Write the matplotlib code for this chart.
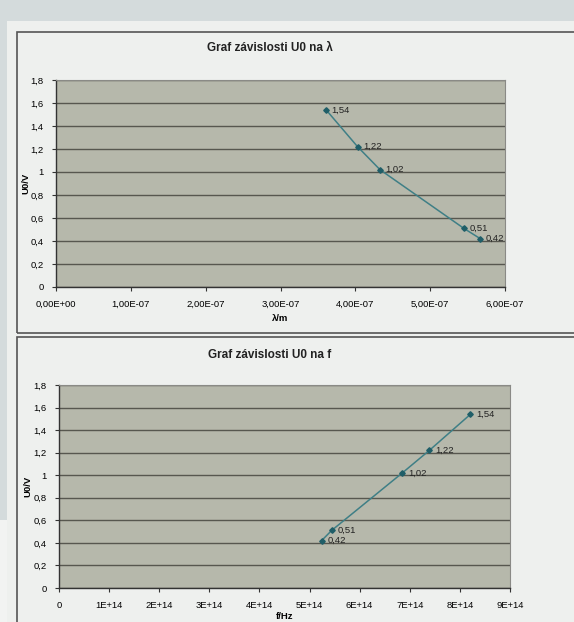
import matplotlib.pyplot as plt
from matplotlib.patches import Rectangle
from matplotlib.ticker import FuncFormatter, MultipleLocator

plt.rcParams['font.family'] = ['Liberation Sans', 'DejaVu Sans']

# namerene hodnoty (rtut: 365, 405, 436, 546, 577 nm)
vlnova_delka = [3.61e-7, 4.03e-7, 4.33e-7, 5.45e-7, 5.67e-7]
frekvence = [8.21e14, 7.39e14, 6.85e14, 5.44e14, 5.24e14]
napeti = [1.54, 1.22, 1.02, 0.51, 0.42]
popisky = ['1,54', '1,22', '1,02', '0,51', '0,42']

W, H = 574, 622
fig = plt.figure(figsize=(W / 100, H / 100), dpi=100)
fig.patch.set_facecolor('#d4dbdc')


def px_axes(x0, y0, x1, y1, **kw):
    # souradnice v pixelech (od leveho horniho rohu)
    return fig.add_axes([x0 / W, 1 - y1 / H, (x1 - x0) / W, (y1 - y0) / H], **kw)


# papir
fig.patches.append(Rectangle((7 / W, 0), 1, 1 - 21 / H, transform=fig.transFigure,
                             facecolor='#eef0ee', edgecolor='none', zorder=-3))
fig.patches.append(Rectangle((0, 0), 7 / W, 1 - 520 / H, transform=fig.transFigure,
                             facecolor='#f2f3f2', edgecolor='none', zorder=-3))
# ramecky grafu
fig.patches.append(Rectangle((17 / W, 1 - 333 / H), 1, (333 - 32) / H, transform=fig.transFigure,
                             facecolor='none', edgecolor='#555555', lw=1.2, zorder=-2))
fig.patches.append(Rectangle((17 / W, -0.1), 1, 0.1 + (H - 337) / H, transform=fig.transFigure,
                             facecolor='none', edgecolor='#555555', lw=1.2, zorder=-2))


def uprav_osu(ax, xmax, xstep, xfmt, title, xlabel, x_title, y_title, x_pad):
    ax.set_facecolor('#b6b8ab')
    ax.set_xlim(0, xmax)
    ax.set_ylim(0, 1.8)
    ax.xaxis.set_major_locator(MultipleLocator(xstep))
    ax.yaxis.set_major_locator(MultipleLocator(0.2))
    ax.xaxis.set_major_formatter(FuncFormatter(xfmt))
    ax.yaxis.set_major_formatter(FuncFormatter(
        lambda v, p: '0' if abs(v) < 1e-9 else ('1' if abs(v - 1) < 1e-9 else f'{v:.1f}'.replace('.', ','))))
    ax.grid(axis='y', color='#57574f', lw=1.0)
    ax.set_axisbelow(True)
    ax.tick_params(labelsize=6.8, length=3, width=0.8, color='#333333', pad=6)
    for s in ['top', 'right']:
        ax.spines[s].set_color('#8a8a86')
    for s in ['left', 'bottom']:
        ax.spines[s].set_color('#333333')
        ax.spines[s].set_linewidth(1.0)
    fig.text(x_title / W, 1 - y_title / H, title, ha='center', va='center',
             fontsize=8.5, fontweight='bold', color='#222222')
    ax.set_xlabel(xlabel, fontsize=6.8, fontweight='bold', labelpad=x_pad)
    ax.set_ylabel('U0/V', fontsize=6.8, fontweight='bold')
    ax.yaxis.set_label_coords(-0.058, 0.5)


def popis(ax, xs):
    ax.plot(xs, napeti, color='#3f7f86', lw=1.1, marker='D', ms=2.8,
            markerfacecolor='#1f5e68', markeredgecolor='#1f5e68')
    for x, y, t in zip(xs, napeti, popisky):
        ax.annotate(t, (x, y), xytext=(4, 0), textcoords='offset points',
                    fontsize=6.8, va='center', color='#222222')


# graf U0 na lambda
ax1 = px_axes(56, 80, 505, 287)
uprav_osu(ax1, 6e-7, 1e-7,
          lambda v, p: f'{v:.2E}'.replace('.', ','),
          'Graf závislosti U0 na λ', 'λ/m', 270, 48, 4)
popis(ax1, vlnova_delka)

# graf U0 na f
ax2 = px_axes(59, 385, 510, 588)
uprav_osu(ax2, 9e14, 1e14,
          lambda v, p: '0' if v == 0 else f'{v:.0E}',
          'Graf závislosti U0 na f', 'f/Hz', 270, 355, 2)
popis(ax2, frekvence)

fig.savefig('out.png', dpi=100, facecolor=fig.get_facecolor())
